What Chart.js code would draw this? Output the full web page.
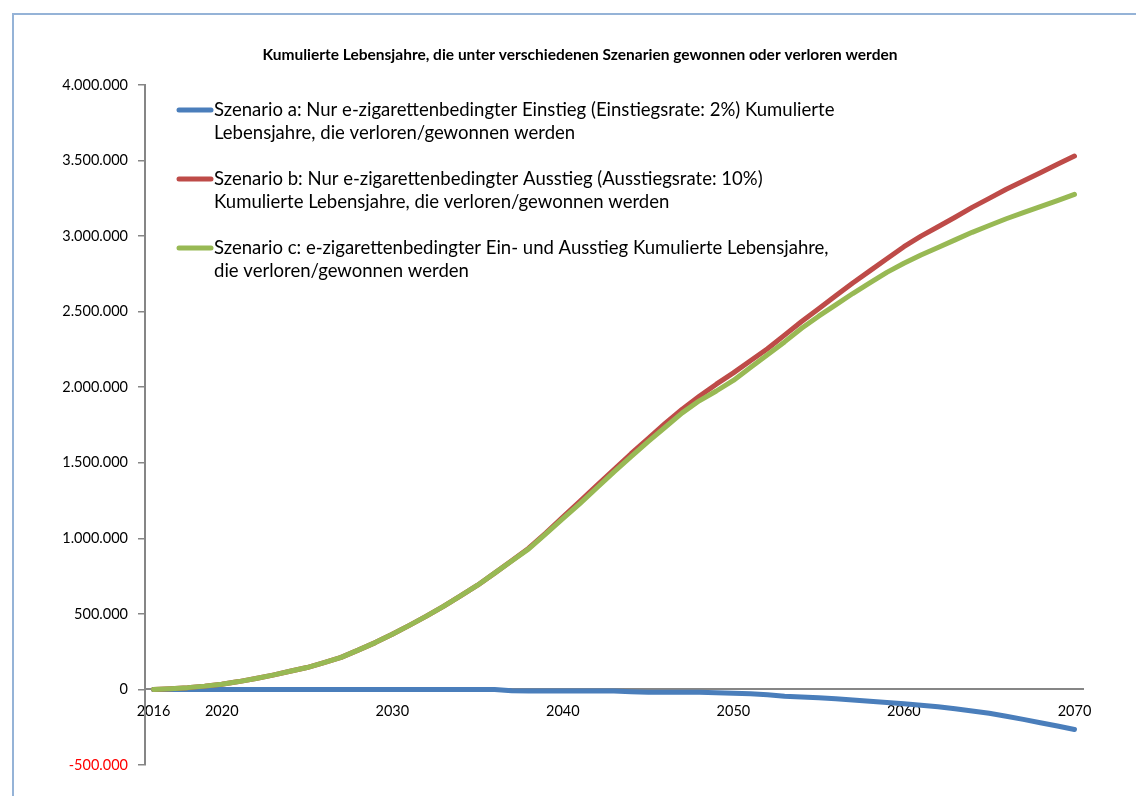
<!DOCTYPE html>
<html>
<head>
<meta charset="utf-8">
<script src="https://cdn.jsdelivr.net/npm/chart.js@4.4.1/dist/chart.umd.min.js"></script>
<style>
  html, body { margin: 0; padding: 0; background: #fff; overflow: hidden; }
  #frame { position: absolute; left: 12px; top: 13px; width: 2000px; height: 2000px;
           border-left: 2px solid #95B3D7; border-top: 2px solid #95B3D7; }
  #myChart { position: absolute; left: 0; top: 0; }
</style>
</head>
<body>
<div id="frame"></div>
<canvas id="myChart" width="1136" height="796"></canvas>
<script>
// years on the category axis
var years = [];
for (var y = 2016; y <= 2070; y++) years.push(String(y));

// Szenario a (nur Einstieg)
var scenA = [
    0, 0, 0, 0, 0, 0, 0, 0, 0, 0,
    0, 0, 0, 0, 0, 0, 0, 0, 0, 0,
    0, -8000, -10000, -10000, -10000, -10000, -10000, -10000, -15000, -18000,
    -18000, -18000, -18000, -22000, -26000, -28000, -35000, -45000, -50000, -55000,
    -62000, -70000, -78000, -86000, -95000, -105000, -115000, -128000, -142000, -158000,
    -177000, -198000, -220000, -242000, -265000
];

// Szenario b (nur Ausstieg)
var scenB = [
    0, 5000, 12000, 22000, 35000, 52000, 72000, 95000, 120000, 145000,
    178000, 212000, 260000, 310000, 365000, 424000, 485000, 550000, 620000, 690000,
    770000, 852000, 935000, 1035000, 1140000, 1245000, 1350000, 1455000, 1560000, 1660000,
    1760000, 1855000, 1940000, 2020000, 2095000, 2175000, 2255000, 2345000, 2435000, 2520000,
    2605000, 2690000, 2770000, 2850000, 2930000, 3000000, 3062000, 3125000, 3190000, 3250000,
    3310000, 3365000, 3420000, 3475000, 3530000
];

// Szenario c (Ein- und Ausstieg)
var scenC = [
    0, 5000, 12000, 22000, 35000, 52000, 72000, 95000, 120000, 145000,
    178000, 212000, 260000, 310000, 365000, 424000, 485000, 550000, 620000, 690000,
    770000, 850000, 930000, 1030000, 1130000, 1230000, 1335000, 1440000, 1540000, 1640000,
    1735000, 1830000, 1910000, 1975000, 2045000, 2130000, 2215000, 2300000, 2390000, 2470000,
    2545000, 2620000, 2690000, 2760000, 2820000, 2875000, 2925000, 2975000, 3025000, 3070000,
    3115000, 3155000, 3195000, 3235000, 3276000
];

var chartTitle = 'Kumulierte Lebensjahre, die unter verschiedenen Szenarien gewonnen oder verloren werden';

var labelsLegend = [
    ['Szenario a: Nur e-zigarettenbedingter Einstieg (Einstiegsrate: 2%) Kumulierte',
     'Lebensjahre, die verloren/gewonnen werden'],
    ['Szenario b: Nur e-zigarettenbedingter Ausstieg (Ausstiegsrate: 10%)',
     'Kumulierte Lebensjahre, die verloren/gewonnen werden'],
    ['Szenario c: e-zigarettenbedingter Ein- und Ausstieg Kumulierte Lebensjahre,',
     'die verloren/gewonnen werden']
];

var colA = '#4A7EBB', colB = '#BE4B48', colC = '#98B954';
var axisGrey = '#868686';

function dotFmt(v) {
    var s = String(Math.abs(v)).replace(/\B(?=(\d{3})+(?!\d))/g, '.');
    return (v < 0 ? '-' : '') + s;
}

// title + legend drawn by hand (title sits off-centre, labels wrap over two lines)
var boxLegend = {
    id: 'boxLegend',
    afterDatasetsDraw: function (chart) {
        var ctx = chart.ctx;
        ctx.save();
        ctx.font = 'bold 15.5px Lato';
        ctx.textAlign = 'center';
        ctx.textBaseline = 'middle';
        ctx.fillStyle = '#000';
        ctx.fillText(chartTitle, 580, 55);

        ctx.textAlign = 'left';
        ctx.font = '16px Lato';
        var fs = 16 * 621 / ctx.measureText(labelsLegend[0][0]).width;
        ctx.font = fs.toFixed(2) + 'px Lato';
        chart.data.datasets.forEach(function (ds, i) {
            var y0 = 110 + i * 69;
            ctx.beginPath();
            ctx.strokeStyle = ds.borderColor;
            ctx.lineWidth = 5;
            ctx.lineCap = 'round';
            ctx.moveTo(179, y0);
            ctx.lineTo(211, y0);
            ctx.stroke();
            ds.legendLines.forEach(function (t, j) {
                ctx.fillText(t, 214, y0 + j * 23);
            });
        });
        ctx.restore();
    }
};

function makeSet(label, lines, data, color, ord) {
    return {
        label: label, legendLines: lines, data: data,
        borderColor: color, backgroundColor: color,
        borderWidth: 5, pointRadius: 0, tension: 0,
        borderCapStyle: 'round', borderJoinStyle: 'round',
        order: ord
    };
}

const config = {
    type: 'line',
    data: {
        labels: years,
        datasets: [
            makeSet(labelsLegend[0].join(' '), labelsLegend[0], scenA, colA, 3),
            makeSet(labelsLegend[1].join(' '), labelsLegend[1], scenB, colB, 2),
            makeSet(labelsLegend[2].join(' '), labelsLegend[2], scenC, colC, 1)
        ]
    },
    options: {
        responsive: false, animation: false,
        layout: { padding: { left: 0, right: 53, top: 85, bottom: 31 } },
        plugins: {
            legend: { display: false },
            tooltip: { enabled: false },
            title: { display: false }
        },
        scales: {
            x: {
                type: 'category',
                offset: true,
                position: { y: 0 },
                grid: { display: false, drawTicks: false },
                border: { display: true, color: axisGrey, width: 2 },
                ticks: {
                    autoSkip: false, maxRotation: 0, padding: 13,
                    color: '#000', font: { family: 'Lato', size: 14.5 },
                    callback: function (val, idx) {
                        var yr = Number(this.getLabelForValue(val));
                        return (yr === 2016 || yr % 10 === 0) ? String(yr) : '';
                    }
                }
            },
            y: {
                min: -500000, max: 4000000,
                afterFit: function (s) { s.width = 145; },
                grid: { drawOnChartArea: false, drawTicks: true, tickLength: 7, color: axisGrey, lineWidth: 1.5 },
                border: { display: true, color: axisGrey, width: 2 },
                ticks: {
                    stepSize: 500000, padding: 10,
                    font: { family: 'Lato', size: 14.5 },
                    color: function (c) { return c.tick && c.tick.value < 0 ? '#FF0000' : '#000'; },
                    callback: function (v) { return dotFmt(v); }
                }
            }
        }
    },
    plugins: [boxLegend]
};

var myChart = new Chart(document.getElementById('myChart'), config);
</script>
</body>
</html>
